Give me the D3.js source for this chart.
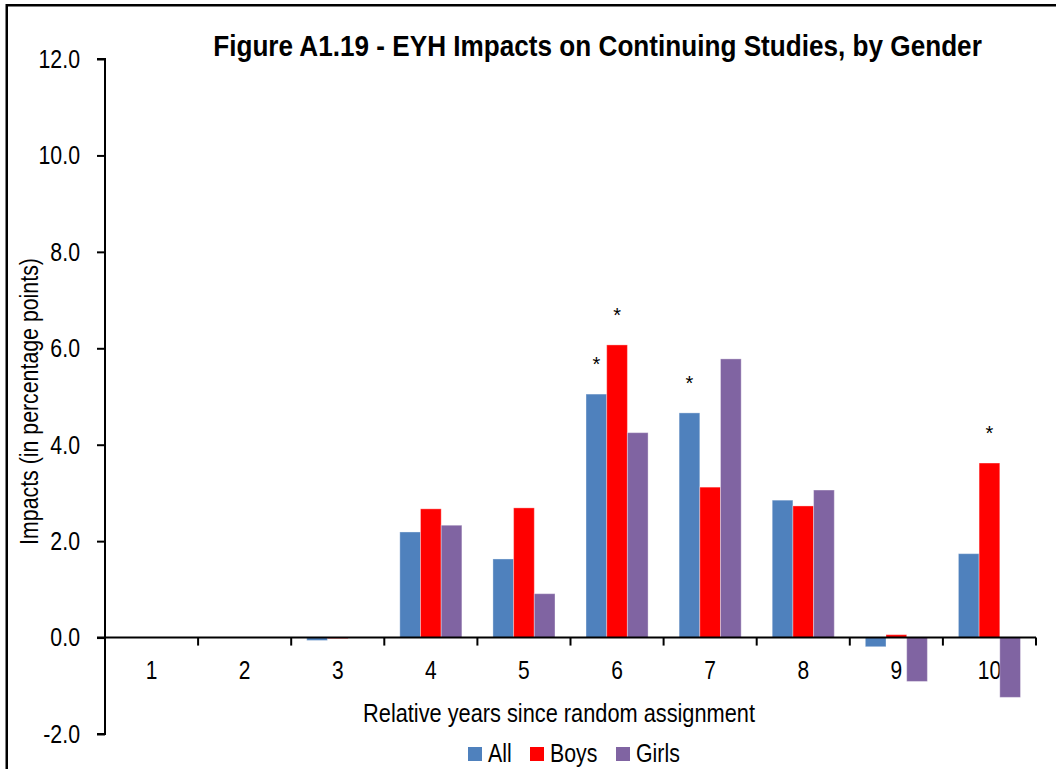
<!DOCTYPE html>
<html>
<head>
<meta charset="utf-8">
<script src="https://cdn.jsdelivr.net/npm/d3@7"></script>
<style>
  body { margin: 0; background: #fff; }
  svg text { font-family: "Liberation Sans", Arial, sans-serif; fill: #000; }
</style>
</head>
<body>
<svg id="svg1" width="1056" height="769"></svg>
<script>
// values
var years = ['1', '2', '3', '4', '5', '6', '7', '8', '9', '10'];
var seriesNames = ['All', 'Boys', 'Girls'];
var seriesColors = ['#4F81BD', '#FF0000', '#8064A2'];
var allVals   = [null, null, -0.06, 2.19, 1.63, 5.05, 4.66, 2.85, -0.19, 1.74];
var boysVals  = [null, null, -0.02, 2.67, 2.69, 6.07, 3.12, 2.73, 0.06, 3.62];
var girlsVals = [null, null, null, 2.33, 0.91, 4.25, 5.78, 3.06, -0.91, -1.24];
// significance stars (1 = starred)
var allSig   = [0, 0, 0, 0, 0, 1, 1, 0, 0, 0];
var boysSig  = [0, 0, 0, 0, 0, 1, 0, 0, 0, 1];
var girlsSig = [0, 0, 0, 0, 0, 0, 0, 0, 0, 0];
var yTicks = [-2, 0, 2, 4, 6, 8, 10, 12];

var svg = d3.select('#svg1');

// no narrow font installed, so squeeze the glyphs horizontally around the anchor
function squeeze(sel, factor) {
    sel.each(function() {
        var t = d3.select(this);
        var x = +t.attr('x') || 0, y = +t.attr('y') || 0;
        var prev = t.attr('transform') || '';
        t.attr('transform', prev + ' translate(' + x + ',' + y + ') scale(' + factor + ',1)')
         .attr('x', 0).attr('y', 0);
    });
}

var seriesVals = [allVals, boysVals, girlsVals];
var seriesSig = [allSig, boysSig, girlsSig];
var rows = [];
years.forEach(function(yr, i) {
    seriesNames.forEach(function(s, j) {
        if (seriesVals[j][i] !== null)
            rows.push({year: yr, series: s, value: seriesVals[j][i], sig: seriesSig[j][i], color: seriesColors[j]});
    });
});

var xScale = d3.scaleBand().domain(years).range([105, 1036]).padding(0);
var x1 = d3.scaleBand().domain(seriesNames).range([0, xScale.bandwidth()])
    .paddingInner(0).paddingOuter(0.75);
var yScale = d3.scaleLinear().domain([-2, 12]).range([734, 59]);

// frame (top and left edges)
svg.append('line').attr('x1', 6.75).attr('x2', 1056).attr('y1', 5.25).attr('y2', 5.25)
    .attr('stroke', '#000').attr('stroke-width', 2.5);
svg.append('line').attr('x1', 6.75).attr('x2', 6.75).attr('y1', 4).attr('y2', 769)
    .attr('stroke', '#000').attr('stroke-width', 2.5);

// title
svg.append('text')
    .attr('x', 597.5).attr('y', 56)
    .attr('text-anchor', 'middle')
    .style('font-size', '30px').style('font-weight', 'bold')
    .text('Figure A1.19 - EYH Impacts on Continuing Studies, by Gender')
    .call(function(sel) {
        var len = sel.node().getComputedTextLength();
        squeeze(sel, 769 / len);
    });

// category labels (under the bars)
svg.append('g').selectAll('text').data(years).enter().append('text')
    .attr('x', function(d) { return xScale(d) + xScale.bandwidth() / 2; })
    .attr('y', 679)
    .attr('text-anchor', 'middle')
    .style('font-size', '25px')
    .text(function(d) { return d; })
    .call(squeeze, 0.84);

// bars
svg.append('g').selectAll('rect').data(rows).enter().append('rect')
    .attr('x', function(d) { return xScale(d.year) + x1(d.series); })
    .attr('y', function(d) { return yScale(Math.max(0, d.value)); })
    .attr('width', x1.bandwidth())
    .attr('height', function(d) { return Math.abs(yScale(d.value) - yScale(0)); })
    .attr('fill', function(d) { return d.color; })
    .attr('stroke', '#fff').attr('stroke-opacity', 0.35).attr('stroke-width', 1);

// stars
svg.append('g').selectAll('text').data(rows.filter(function(d) { return d.sig; })).enter().append('text')
    .attr('x', function(d) { return xScale(d.year) + x1(d.series) + x1.bandwidth() / 2; })
    .attr('y', function(d) { return yScale(d.value) - 23; })
    .attr('text-anchor', 'middle')
    .style('font-size', '20px')
    .text('*');

// y axis
var yAxis = d3.axisLeft(yScale).tickValues(yTicks).tickSize(8).tickPadding(17)
    .tickFormat(function(d) { return d.toFixed(1); });
var gy = svg.append('g').attr('transform', 'translate(105,0)').call(yAxis);
gy.select('.domain').attr('stroke-width', 2).attr('d', 'M-8,59H0V734H-8');
gy.selectAll('.tick line').attr('stroke-width', 2);
gy.selectAll('.tick text').style('font-size', '26px')
    .style('font-family', '"Liberation Sans", Arial, sans-serif')
    .call(squeeze, 0.82);

// x axis at zero with ticks on band edges
var gx = svg.append('g').attr('transform', 'translate(0,' + yScale(0) + ')');
gx.append('line').attr('x1', 97).attr('x2', 1036).attr('stroke', '#000').attr('stroke-width', 2);
gx.selectAll('.xt').data(years).enter().append('line')
    .attr('class', 'xt')
    .attr('x1', function(d) { return xScale(d) + xScale.bandwidth(); })
    .attr('x2', function(d) { return xScale(d) + xScale.bandwidth(); })
    .attr('y1', 0).attr('y2', 8)
    .attr('stroke', '#000').attr('stroke-width', 2);

// axis titles
var yTitle = svg.append('text')
    .attr('text-anchor', 'middle').attr('dy', '0.35em')
    .style('font-size', '26px')
    .text('Impacts (in percentage points)');
yTitle.attr('transform', 'translate(29,401.5) rotate(-90) scale(' + (287 / yTitle.node().getComputedTextLength()) + ',1)');

svg.append('text')
    .attr('x', 559).attr('y', 722)
    .attr('text-anchor', 'middle')
    .style('font-size', '26px')
    .text('Relative years since random assignment')
    .call(function(sel) {
        squeeze(sel, 392 / sel.node().getComputedTextLength());
    });

// legend
var legendX = [468, 530, 616];
var legend = svg.append('g').selectAll('g').data(seriesNames).enter().append('g')
    .attr('transform', function(d, i) { return 'translate(' + legendX[i] + ',747)'; });
legend.append('rect').attr('width', 14).attr('height', 14)
    .attr('fill', function(d, i) { return seriesColors[i]; });
legend.append('text').attr('x', 20).attr('y', 15)
    .style('font-size', '26px')
    .text(function(d) { return d; })
    .call(squeeze, 0.82);
</script>
</body>
</html>
